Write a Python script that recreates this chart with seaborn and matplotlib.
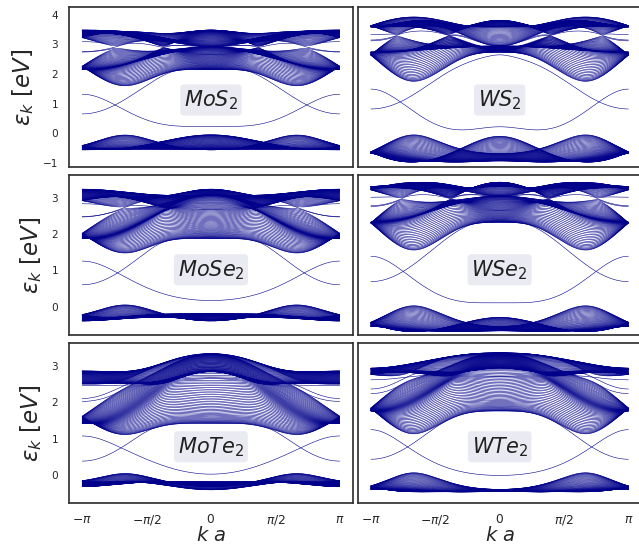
import numpy as np
import pandas as pd
import matplotlib
matplotlib.use("Agg")
import matplotlib.pyplot as plt
import seaborn as sns

# Three-band nearest-neighbour tight-binding parameters (eV) per material
materials = ["MoS2", "WS2", "MoSe2", "WSe2", "MoTe2", "WTe2"]
panel_labels = [r"$MoS_2$", r"$WS_2$", r"$MoSe_2$", r"$WSe_2$", r"$MoTe_2$", r"$WTe_2$"]
eps1 = [1.046, 1.130, 0.919, 0.943, 0.605, 0.606]
eps2 = [2.104, 2.275, 2.065, 2.179, 1.972, 2.102]
t0 = [-0.184, -0.206, -0.188, -0.207, -0.169, -0.175]
t1 = [0.401, 0.567, 0.317, 0.457, 0.228, 0.342]
t2 = [0.507, 0.536, 0.456, 0.486, 0.390, 0.410]
t11 = [0.218, 0.286, 0.211, 0.263, 0.207, 0.233]
t12 = [0.338, 0.384, 0.290, 0.329, 0.239, 0.270]
t22 = [0.057, -0.061, 0.130, 0.034, 0.252, 0.190]
n_rows = 60          # ribbon width (rows of metal atoms)
n_k = 241

xtick_vals = [-np.pi, -np.pi / 2, 0, np.pi / 2, np.pi]
xtick_labels = [r"$-\pi$", r"$-\pi/2$", r"$0$", r"$\pi/2$", r"$\pi$"]
row_ylims = [(-1.16, 4.26), (-0.79, 3.65), (-0.78, 3.63)]
row_yticks = [[-1, 0, 1, 2, 3, 4], [0, 1, 2, 3], [0, 1, 2, 3]]
row_label_y = [1.12, 1.02, 0.78]


def bulk_h(kx, beta, i):
    a = kx / 2.0
    b = beta
    s3 = np.sqrt(3.0)
    h0 = 2 * t0[i] * (np.cos(2 * a) + 2 * np.cos(a) * np.cos(b)) + eps1[i]
    h1 = -2 * s3 * t2[i] * np.sin(a) * np.sin(b) + 2j * t1[i] * (np.sin(2 * a) + np.sin(a) * np.cos(b))
    h2 = 2 * t2[i] * (np.cos(2 * a) - np.cos(a) * np.cos(b)) + 2j * s3 * t1[i] * np.cos(a) * np.sin(b)
    h11 = 2 * t11[i] * np.cos(2 * a) + (t11[i] + 3 * t22[i]) * np.cos(a) * np.cos(b) + eps2[i]
    h22 = 2 * t22[i] * np.cos(2 * a) + (3 * t11[i] + t22[i]) * np.cos(a) * np.cos(b) + eps2[i]
    h12 = s3 * (t22[i] - t11[i]) * np.sin(a) * np.sin(b) + 4j * t12[i] * np.sin(a) * (np.cos(a) - np.cos(b))
    return np.array([[h0, h1, h2],
                     [np.conj(h1), h11, h12],
                     [np.conj(h2), np.conj(h12), h22]], dtype=complex)


def ribbon_bands(i):
    ks = np.linspace(-np.pi, np.pi, n_k)
    betas = np.array([0.0, 2 * np.pi / 3, 4 * np.pi / 3])
    out = np.zeros((n_k, 3 * n_rows))
    for m, kx in enumerate(ks):
        hs = [bulk_h(kx, bb, i) for bb in betas]
        A = sum(hs) / 3.0
        B = sum(h * np.exp(-1j * bb) for h, bb in zip(hs, betas)) / 3.0
        A = 0.5 * (A + A.conj().T)
        H = np.zeros((3 * n_rows, 3 * n_rows), dtype=complex)
        for j in range(n_rows):
            H[3 * j:3 * j + 3, 3 * j:3 * j + 3] = A
            if j < n_rows - 1:
                H[3 * j:3 * j + 3, 3 * j + 3:3 * j + 6] = B
                H[3 * j + 3:3 * j + 6, 3 * j:3 * j + 3] = B.conj().T
        out[m] = np.linalg.eigvalsh(H)
    return ks, out


sns.set_style("white")
plt.rcParams["font.family"] = ["DejaVu Sans"]
plt.rcParams["axes.edgecolor"] = "0.2"
plt.rcParams["axes.linewidth"] = 1.25

W, Hh = 639, 548
fig = plt.figure(figsize=(W / 100, Hh / 100), dpi=100)
col_x = [69.3, 358.0]
ax_w = 283.3
row_top = [7.3, 175.0, 343.3]
ax_h = 160.0

for idx, name in enumerate(materials):
    r, c = divmod(idx, 2)
    ax = fig.add_axes([col_x[c] / W, 1 - (row_top[r] + ax_h) / Hh, ax_w / W, ax_h / Hh])
    ks, ev = ribbon_bands(idx)
    df = pd.DataFrame({
        "k": np.tile(ks, ev.shape[1]),
        "E": ev.T.ravel(),
        "band": np.repeat(np.arange(ev.shape[1]), len(ks)),
    })
    sns.lineplot(data=df, x="k", y="E", units="band", estimator=None, sort=False,
                 color="darkblue", lw=0.4, ax=ax, legend=False)
    ax.set_xlim(-1.1 * np.pi, 1.1 * np.pi)
    ax.set_ylim(*row_ylims[r])
    ax.set_xticks(xtick_vals)
    ax.set_yticks(row_yticks[r])
    ax.tick_params(axis="y", length=0, labelsize=7.6, pad=8)
    ax.tick_params(axis="x", length=0, labelsize=8.8, pad=7)
    if r == 2:
        ax.set_xticklabels(xtick_labels)
        ax.set_xlabel(r"$k\ a$", fontsize=14, labelpad=-1)
    else:
        ax.set_xticklabels([])
        ax.set_xlabel("")
    if c == 0:
        ax.set_ylabel(r"$\varepsilon_k\ [eV]$", fontsize=16.5, labelpad=5)
    else:
        ax.set_yticklabels([])
        ax.set_ylabel("")
    ax.text(0, row_label_y[r], panel_labels[idx], fontsize=15, ha="center", va="center",
            color="0.13",
            bbox=dict(boxstyle="round,pad=0.18", fc="#EAEAF2", ec="none"))

fig.savefig("out.png", dpi=100)
